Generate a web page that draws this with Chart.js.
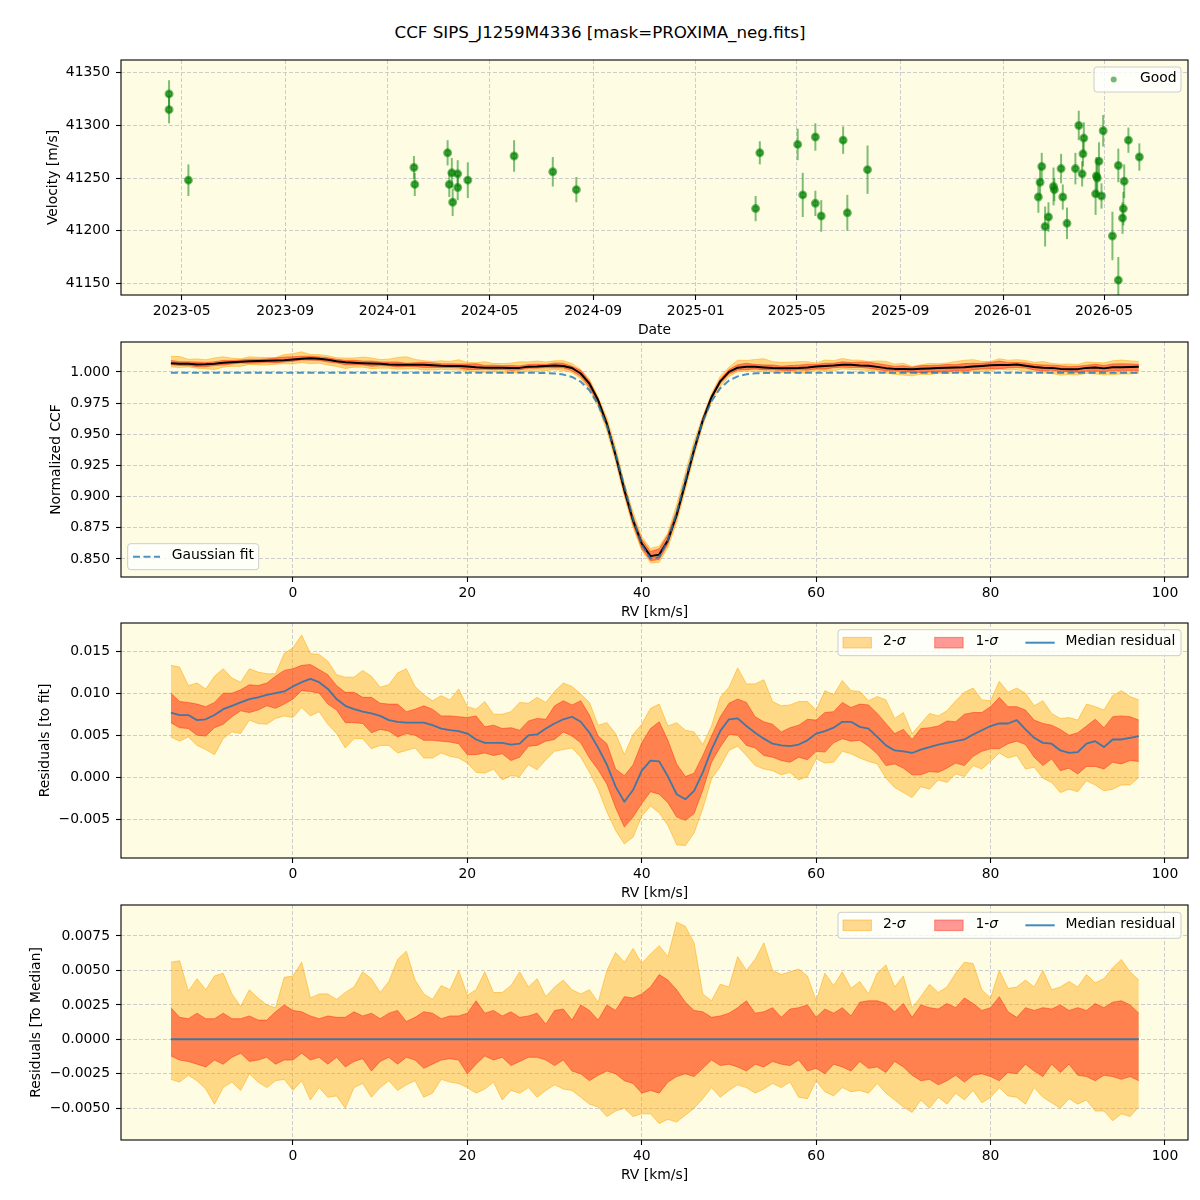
<!DOCTYPE html>
<html><head><meta charset="utf-8">
<script src="https://cdn.jsdelivr.net/npm/chart.js@4.4.0/dist/chart.umd.min.js"></script>
<style>
html,body{margin:0;padding:0;background:#fff;}
#wrap{position:relative;width:1200px;height:1200px;overflow:hidden;background:#fff;}
canvas{position:absolute;left:0;}
#title{position:absolute;left:0;width:1200px;top:22px;line-height:20px;text-align:center;font-family:"DejaVu Sans",sans-serif;font-size:16.7px;color:#000;}
</style></head><body>
<div id="wrap">
<div id="title">CCF SIPS_J1259M4336 [mask=PROXIMA_neg.fits]</div>
<canvas id="c1" width="1200" height="289" style="top:50px"></canvas>
<canvas id="c2" width="1200" height="289" style="top:332px"></canvas>
<canvas id="c3" width="1200" height="289" style="top:613px"></canvas>
<canvas id="c4" width="1200" height="289" style="top:895px"></canvas>
</div>
<script>
// ---------------- DATA ----------------
const OBS_DATES = ['2023-04-16','2023-04-16','2023-05-09','2024-02-01','2024-02-02','2024-03-12','2024-03-14','2024-03-17','2024-03-18','2024-03-24',
'2024-03-24','2024-04-05','2024-05-30','2024-07-15','2024-08-12','2025-03-13','2025-03-18','2025-05-02','2025-05-08','2025-05-23',
'2025-05-23','2025-05-30','2025-06-25','2025-06-30','2025-07-24','2026-02-12','2026-02-14','2026-02-16','2026-02-20','2026-02-24',
'2026-03-02','2026-03-03','2026-03-11','2026-03-13','2026-03-18','2026-03-28','2026-04-01','2026-04-05','2026-04-06','2026-04-07',
'2026-04-21','2026-04-22','2026-04-23','2026-04-25','2026-04-28','2026-04-30','2026-05-11','2026-05-18','2026-05-18','2026-05-23',
'2026-05-24','2026-05-25','2026-05-30','2026-06-12'];
const OBS_VEL = [41330,41315,41248,41260,41244,41274,41244,41255,41227,41254,
41241,41248,41271,41256,41239,41221,41274,41282,41234,41289,
41226,41214,41286,41217,41258,41232,41246,41261,41204,41213,
41242,41239,41259,41232,41207,41259,41300,41254,41273,41288,
41235,41252,41250,41266,41233,41295,41195,41153,41262,41212,
41221,41247,41286,41270];
const OBS_ERR = [13,13,15,11,11,12,12,14,13,13,
12,17,15,14,12,12,11,15,21,13,
12,15,13,17,23,15,15,13,19,14,
18,11,14,12,15,15,14,12,12,15,
20,18,18,18,12,15,23,22,16,15,
16,16,12,13];

const RV = [-14,-13,-12,-11,-10,-9,-8,-7,-6,-5,
-4,-3,-2,-1,0,1,2,3,4,5,
6,7,8,9,10,11,12,13,14,15,
16,17,18,19,20,21,22,23,24,25,
26,27,28,29,30,31,32,33,34,35,
36,37,38,39,40,41,42,43,44,45,
46,47,48,49,50,51,52,53,54,55,
56,57,58,59,60,61,62,63,64,65,
66,67,68,69,70,71,72,73,74,75,
76,77,78,79,80,81,82,83,84,85,
86,87,88,89,90,91,92,93,94,95,
96,97];

const GAUSS_FIT = [0.9993,0.9993,0.9993,0.9993,0.9993,0.9993,0.9993,0.9993,0.9993,0.9993,
0.9993,0.9993,0.9993,0.9993,0.9993,0.9993,0.9993,0.9993,0.9993,0.9993,
0.9993,0.9993,0.9993,0.9993,0.9993,0.9993,0.9993,0.9993,0.9993,0.9993,
0.9993,0.9993,0.9993,0.9993,0.9993,0.9993,0.9993,0.9993,0.9993,0.9993,
0.9993,0.9993,0.9993,0.9991,0.9988,0.9979,0.9960,0.9922,0.9853,0.9738,
0.9568,0.9344,0.9083,0.8824,0.8615,0.8503,0.8516,0.8650,0.8873,0.9137,
0.9392,0.9607,0.9765,0.9870,0.9932,0.9965,0.9981,0.9989,0.9991,0.9993,
0.9993,0.9993,0.9993,0.9993,0.9993,0.9993,0.9993,0.9993,0.9993,0.9993,
0.9993,0.9993,0.9993,0.9993,0.9993,0.9993,0.9993,0.9993,0.9993,0.9993,
0.9993,0.9993,0.9993,0.9993,0.9993,0.9993,0.9993,0.9993,0.9993,0.9993,
0.9993,0.9993,0.9993,0.9993,0.9993,0.9993,0.9993,0.9993,0.9993,0.9993,
0.9993,0.9993];

// median residual (CCF - fit)
const MED_RES = [0.0077,0.0074,0.0074,0.0068,0.0069,0.0074,0.0081,0.0085,0.0089,0.0093,
0.0095,0.0098,0.0100,0.0102,0.0108,0.0113,0.0117,0.0113,0.0105,0.0093,
0.0085,0.0081,0.0078,0.0076,0.0073,0.0068,0.0066,0.0065,0.0065,0.0065,
0.0062,0.0058,0.0056,0.0055,0.0052,0.0045,0.0041,0.0041,0.0041,0.0039,
0.0040,0.0050,0.0051,0.0058,0.0064,0.0069,0.0072,0.0066,0.0053,0.0035,
0.0015,-0.0011,-0.0029,-0.0015,0.0008,0.0020,0.0019,0.0001,-0.0020,-0.0026,
-0.0016,0.0006,0.0033,0.0055,0.0069,0.0070,0.0061,0.0053,0.0046,0.0040,
0.0038,0.0037,0.0039,0.0044,0.0052,0.0055,0.0059,0.0066,0.0066,0.0060,
0.0058,0.0048,0.0038,0.0032,0.0031,0.0029,0.0033,0.0036,0.0039,0.0041,
0.0043,0.0045,0.0051,0.0056,0.0061,0.0064,0.0064,0.0068,0.0057,0.0047,
0.0041,0.0040,0.0032,0.0029,0.0030,0.0040,0.0043,0.0036,0.0045,0.0045,
0.0047,0.0049];

// band edges relative to the median residual
const SIG2_HI = [0.0056,0.0057,0.0035,0.0044,0.0036,0.0046,0.0048,0.0033,0.0024,0.0036,
0.0030,0.0025,0.0023,0.0045,0.0046,0.0056,0.0030,0.0033,0.0033,0.0029,
0.0034,0.0038,0.0049,0.0044,0.0034,0.0042,0.0058,0.0064,0.0043,0.0033,
0.0029,0.0039,0.0036,0.0050,0.0032,0.0036,0.0049,0.0034,0.0034,0.0039,
0.0049,0.0038,0.0044,0.0031,0.0038,0.0043,0.0036,0.0033,0.0036,0.0027,
0.0050,0.0063,0.0056,0.0066,0.0055,0.0062,0.0068,0.0060,0.0085,0.0082,
0.0070,0.0033,0.0028,0.0040,0.0038,0.0060,0.0050,0.0058,0.0070,0.0050,
0.0047,0.0049,0.0051,0.0046,0.0028,0.0048,0.0039,0.0049,0.0037,0.0042,
0.0033,0.0048,0.0054,0.0038,0.0046,0.0023,0.0031,0.0040,0.0034,0.0038,
0.0048,0.0056,0.0055,0.0036,0.0030,0.0050,0.0037,0.0038,0.0043,0.0038,
0.0050,0.0036,0.0038,0.0042,0.0038,0.0047,0.0041,0.0044,0.0052,0.0058,
0.0049,0.0043];
const SIG1_HI = [0.0023,0.0016,0.0015,0.0019,0.0015,0.0015,0.0019,0.0015,0.0015,0.0017,
0.0014,0.0014,0.0020,0.0025,0.0021,0.0020,0.0017,0.0015,0.0017,0.0016,
0.0016,0.0020,0.0017,0.0019,0.0015,0.0019,0.0021,0.0013,0.0016,0.0020,
0.0019,0.0015,0.0017,0.0017,0.0019,0.0028,0.0019,0.0021,0.0017,0.0020,
0.0016,0.0017,0.0019,0.0011,0.0021,0.0022,0.0014,0.0025,0.0021,0.0014,
0.0025,0.0021,0.0031,0.0030,0.0033,0.0038,0.0047,0.0043,0.0036,0.0027,
0.0021,0.0020,0.0016,0.0017,0.0019,0.0023,0.0028,0.0019,0.0020,0.0023,
0.0016,0.0022,0.0023,0.0025,0.0016,0.0022,0.0019,0.0023,0.0017,0.0027,
0.0028,0.0028,0.0026,0.0020,0.0026,0.0016,0.0025,0.0023,0.0022,0.0026,
0.0023,0.0030,0.0026,0.0021,0.0023,0.0031,0.0020,0.0016,0.0023,0.0021,
0.0023,0.0022,0.0025,0.0021,0.0023,0.0021,0.0026,0.0023,0.0027,0.0028,
0.0025,0.0019];
const SIG1_LO = [-0.0012,-0.0015,-0.0016,-0.0018,-0.0020,-0.0015,-0.0018,-0.0013,-0.0010,-0.0016,
-0.0015,-0.0013,-0.0018,-0.0015,-0.0015,-0.0010,-0.0015,-0.0013,-0.0018,-0.0013,
-0.0020,-0.0016,-0.0014,-0.0023,-0.0016,-0.0013,-0.0018,-0.0013,-0.0015,-0.0021,
-0.0018,-0.0015,-0.0014,-0.0015,-0.0025,-0.0018,-0.0012,-0.0015,-0.0013,-0.0019,
-0.0016,-0.0013,-0.0013,-0.0015,-0.0019,-0.0015,-0.0023,-0.0025,-0.0030,-0.0026,
-0.0023,-0.0025,-0.0030,-0.0032,-0.0039,-0.0037,-0.0039,-0.0031,-0.0027,-0.0025,
-0.0027,-0.0021,-0.0015,-0.0019,-0.0018,-0.0020,-0.0023,-0.0018,-0.0020,-0.0016,
-0.0018,-0.0019,-0.0015,-0.0023,-0.0021,-0.0025,-0.0018,-0.0020,-0.0023,-0.0016,
-0.0021,-0.0020,-0.0024,-0.0016,-0.0020,-0.0026,-0.0030,-0.0029,-0.0033,-0.0030,
-0.0026,-0.0031,-0.0026,-0.0025,-0.0027,-0.0030,-0.0024,-0.0025,-0.0018,-0.0023,
-0.0027,-0.0018,-0.0024,-0.0018,-0.0026,-0.0027,-0.0030,-0.0026,-0.0027,-0.0029,
-0.0027,-0.0030];
const SIG2_LO = [-0.0029,-0.0031,-0.0026,-0.0030,-0.0036,-0.0047,-0.0035,-0.0031,-0.0037,-0.0025,
-0.0031,-0.0035,-0.0030,-0.0029,-0.0037,-0.0030,-0.0044,-0.0035,-0.0042,-0.0041,
-0.0050,-0.0035,-0.0032,-0.0042,-0.0035,-0.0030,-0.0037,-0.0033,-0.0030,-0.0042,
-0.0039,-0.0029,-0.0031,-0.0032,-0.0035,-0.0039,-0.0036,-0.0031,-0.0044,-0.0037,
-0.0039,-0.0035,-0.0042,-0.0037,-0.0033,-0.0036,-0.0037,-0.0042,-0.0047,-0.0049,
-0.0056,-0.0052,-0.0050,-0.0056,-0.0054,-0.0054,-0.0061,-0.0058,-0.0060,-0.0055,
-0.0050,-0.0043,-0.0035,-0.0042,-0.0037,-0.0033,-0.0035,-0.0039,-0.0036,-0.0032,
-0.0035,-0.0031,-0.0042,-0.0043,-0.0030,-0.0038,-0.0041,-0.0035,-0.0038,-0.0037,
-0.0039,-0.0032,-0.0039,-0.0044,-0.0049,-0.0053,-0.0044,-0.0050,-0.0042,-0.0047,
-0.0039,-0.0044,-0.0037,-0.0046,-0.0042,-0.0035,-0.0041,-0.0042,-0.0047,-0.0035,
-0.0042,-0.0046,-0.0050,-0.0043,-0.0047,-0.0044,-0.0052,-0.0052,-0.0059,-0.0054,
-0.0056,-0.0049];

const DATE_TICKS = ['2023-05-01','2023-09-01','2024-01-01','2024-05-01','2024-09-01','2025-01-01','2025-05-01','2025-09-01','2026-01-01','2026-05-01'];
const VEL_TICKS = [41150,41200,41250,41300,41350];
const RV_TICKS = [0,20,40,60,80,100];
const CCF_TICKS = [0.850,0.875,0.900,0.925,0.950,0.975,1.000];
const RES_TICKS = [-0.005,0.000,0.005,0.010,0.015];
const RESMED_TICKS = [-0.0050,-0.0025,0.0000,0.0025,0.0050,0.0075];

// ---------------- STYLE ----------------
const FONT = '"DejaVu Sans", sans-serif';
const FS = 13.9;
const BG = '#fefde4';
const GRID = '#cdcdcd';
const C2 = 'rgba(255,165,0,0.42)', C2E = 'rgba(255,165,0,0.5)';
const C1 = 'rgba(255,0,0,0.4)', C1E = 'rgba(255,30,0,0.45)';
const BLUE = 'rgba(31,119,180,0.85)';
const DAY = 864e5;
const T0 = Date.parse('2023-05-01');

const framePlugin = {
  id: 'frame',
  beforeDraw(chart) {
    const {ctx, chartArea: a} = chart;
    ctx.save(); ctx.fillStyle = BG;
    ctx.fillRect(a.left, a.top, a.right - a.left, a.bottom - a.top);
    ctx.restore();
  },
  afterDraw(chart) {
    const {ctx, chartArea: a} = chart;
    ctx.save(); ctx.strokeStyle = '#000'; ctx.lineWidth = 1.1;
    ctx.strokeRect(a.left, a.top, a.right - a.left, a.bottom - a.top);
    ctx.restore();
    const L = chart.options.plugins.mplLegend;
    if (L && L.items) drawLegend(chart, L);
  }
};

function drawLegend(chart, L) {
  const {ctx, chartArea: a} = chart;
  const bx = L.corner === 'bl' ? a.left + L.dx : a.right - L.dx - L.w;
  const by = L.corner === 'bl' ? a.bottom - L.dy - L.h : a.top + L.dy;
  ctx.save();
  const r = 3;
  ctx.beginPath();
  ctx.moveTo(bx + r, by); ctx.lineTo(bx + L.w - r, by); ctx.arcTo(bx + L.w, by, bx + L.w, by + r, r);
  ctx.lineTo(bx + L.w, by + L.h - r); ctx.arcTo(bx + L.w, by + L.h, bx + L.w - r, by + L.h, r);
  ctx.lineTo(bx + r, by + L.h); ctx.arcTo(bx, by + L.h, bx, by + L.h - r, r);
  ctx.lineTo(bx, by + r); ctx.arcTo(bx, by, bx + r, by, r); ctx.closePath();
  ctx.fillStyle = 'rgba(255,255,255,0.8)'; ctx.fill();
  ctx.strokeStyle = '#cccccc'; ctx.lineWidth = 1; ctx.stroke();
  const cy = by + L.h / 2;
  for (const it of L.items) {
    if (it.kind === 'patch') {
      ctx.fillStyle = it.fill; ctx.fillRect(bx + it.x, cy - 5.3, 28.4, 10.6);
      ctx.strokeStyle = it.edge; ctx.lineWidth = 1; ctx.strokeRect(bx + it.x, cy - 5.3, 28.4, 10.6);
    } else if (it.kind === 'line') {
      ctx.strokeStyle = it.color; ctx.lineWidth = it.lw; ctx.setLineDash(it.dash || []);
      ctx.beginPath(); ctx.moveTo(bx + it.x, cy); ctx.lineTo(bx + it.x2, cy); ctx.stroke();
      ctx.setLineDash([]);
    } else if (it.kind === 'dot') {
      ctx.fillStyle = it.color; ctx.beginPath(); ctx.arc(bx + it.x, cy, it.r, 0, Math.PI * 2); ctx.fill();
    }
    ctx.fillStyle = '#000'; ctx.textBaseline = 'middle'; ctx.textAlign = 'left';
    ctx.font = FS + 'px ' + FONT;
    ctx.fillText(it.text, bx + it.tx, cy - 1);
    if (it.sigma) {
      const w = ctx.measureText(it.text).width;
      ctx.font = 'italic ' + FS + 'px ' + FONT;
      ctx.fillText('\u03c3', bx + it.tx + w, cy - 1);
    }
  }
  ctx.restore();
}

const errBarPlugin = {
  id: 'errBars',
  beforeDatasetsDraw(chart) {
    const {ctx, chartArea: a} = chart;
    const xs = chart.scales.x, ys = chart.scales.y;
    ctx.save();
    ctx.beginPath(); ctx.rect(a.left, a.top, a.right - a.left, a.bottom - a.top); ctx.clip();
    ctx.strokeStyle = 'rgba(0,128,0,0.5)'; ctx.lineWidth = 2;
    OBS_DATES.forEach((d, i) => {
      const px = xs.getPixelForValue(Date.parse(d));
      ctx.beginPath();
      ctx.moveTo(px, ys.getPixelForValue(OBS_VEL[i] - OBS_ERR[i]));
      ctx.lineTo(px, ys.getPixelForValue(OBS_VEL[i] + OBS_ERR[i]));
      ctx.stroke();
    });
    ctx.restore();
  }
};

const fmtMinus = s => s.replace('-', '\u2212');

function axisCommon(ticksArr, fmt, title) {
  return {
    type: 'linear',
    afterBuildTicks: s => { s.ticks = ticksArr.map(v => ({value: v})); },
    grid: {color: GRID, lineWidth: 1, tickLength: 5, tickColor: '#000', tickWidth: 1.1, tickBorderDash: [], drawTicks: true},
    border: {display: false, dash: [4, 2]},
    ticks: {font: {family: FONT, size: FS}, color: '#000', maxRotation: 0, autoSkip: false, callback: v => fmt(v)},
    title: {display: true, text: title, font: {family: FONT, size: FS}, color: '#000', padding: 0}
  };
}

function makeOptions(cfg) {
  const x = axisCommon(cfg.xticks, cfg.xfmt, cfg.xtitle);
  x.min = cfg.xmin; x.max = cfg.xmax; x.ticks.padding = 3;
  x.afterFit = s => { s.height = 44; s.paddingLeft = 0; s.paddingRight = 0; };
  const y = axisCommon(cfg.yticks, cfg.yfmt, cfg.ytitle);
  y.min = cfg.ymin; y.max = cfg.ymax; y.ticks.padding = 6;
  y.afterFit = s => { s.width = 121 - cfg.padLeft; s.paddingTop = 0; s.paddingBottom = 0; };
  return {
    responsive: false, animation: false, devicePixelRatio: 1,
    layout: {padding: {left: cfg.padLeft, right: 12, top: 10, bottom: 0}},
    elements: {point: {radius: 0, hoverRadius: 0}, line: {tension: 0, borderJoinStyle: 'round'}},
    plugins: {legend: {display: false}, tooltip: {enabled: false}, mplLegend: cfg.legend},
    events: [],
    scales: {x, y}
  };
}

const pts = arr => RV.map((v, i) => ({x: v, y: arr[i]}));
function bandSets(lo2, hi2, lo1, hi1) {
  return [
    {data: pts(lo2), borderColor: C2E, borderWidth: 1, backgroundColor: C2, fill: false, order: 3},
    {data: pts(hi2), borderColor: C2E, borderWidth: 1, backgroundColor: C2, fill: '-1', order: 3},
    {data: pts(lo1), borderColor: C1E, borderWidth: 1, backgroundColor: C1, fill: false, order: 2},
    {data: pts(hi1), borderColor: C1E, borderWidth: 1, backgroundColor: C1, fill: '-1', order: 2}
  ];
}

const RV_RANGE = {xmin: -19.72, xmax: 102.64, xticks: RV_TICKS, xfmt: v => String(v), xtitle: 'RV [km/s]'};
const sigLegend = dy => ({corner: 'tr', dx: 7, dy: dy, w: 343, h: 26, items: [
  {kind: 'patch', x: 5, fill: C2, edge: C2E, text: '2-', sigma: true, tx: 45},
  {kind: 'patch', x: 96.7, fill: C1, edge: C1E, text: '1-', sigma: true, tx: 137.4},
  {kind: 'line', x: 187.4, x2: 216.7, lw: 2, color: BLUE, text: 'Median residual', tx: 227.4}
]});

// ---------- Panel 1: velocities ----------
new Chart(document.getElementById('c1'), {
  type: 'scatter',
  data: {datasets: [{
    data: OBS_DATES.map((d, i) => ({x: Date.parse(d), y: OBS_VEL[i]})),
    pointRadius: 3.2, pointBorderWidth: 2.6,
    pointBackgroundColor: 'rgba(0,128,0,0.7)', pointBorderColor: 'rgba(0,128,0,0.55)', showLine: false
  }]},
  options: makeOptions({
    xmin: T0 - 72.1 * DAY, xmax: T0 + 1195.8 * DAY,
    xticks: DATE_TICKS.map(d => Date.parse(d)),
    xfmt: v => new Date(v).toISOString().slice(0, 7), xtitle: 'Date',
    ymin: 41138.9, ymax: 41362.2, yticks: VEL_TICKS, yfmt: v => String(v), ytitle: 'Velocity [m/s]',
    padLeft: 45,
    legend: {corner: 'tr', dx: 7, dy: 7, w: 87, h: 25, items: [{kind: 'dot', x: 19.7, r: 3, color: 'rgba(0,128,0,0.55)', text: 'Good', tx: 46}]}
  }),
  plugins: [framePlugin, errBarPlugin]
});

// ---------- Panel 2: CCF ----------
const ccfMed = GAUSS_FIT.map((f, i) => f + MED_RES[i]);
const ccfBand = off => GAUSS_FIT.map((f, i) => f + MED_RES[i] + off[i]);
new Chart(document.getElementById('c2'), {
  type: 'line',
  data: {datasets: [
    ...bandSets(ccfBand(SIG2_LO), ccfBand(SIG2_HI), ccfBand(SIG1_LO), ccfBand(SIG1_HI)),
    {data: pts(ccfMed), borderColor: '#000', borderWidth: 2, fill: false, order: 1},
    {data: pts(GAUSS_FIT), borderColor: 'rgba(31,119,180,0.8)', borderWidth: 2, borderDash: [7, 3.5], fill: false, order: 0}
  ]},
  options: makeOptions(Object.assign({}, RV_RANGE, {
    ymin: 0.83556, ymax: 1.02406, yticks: CCF_TICKS, yfmt: v => v.toFixed(3), ytitle: 'Normalized CCF',
    padLeft: 48,
    legend: {corner: 'bl', dx: 6.7, dy: 7.3, w: 131, h: 26, items: [
      {kind: 'line', x: 5.3, x2: 32.3, lw: 2, color: 'rgba(31,119,180,0.8)', dash: [7, 3.5], text: 'Gaussian fit', tx: 44}]}
  })),
  plugins: [framePlugin]
});

// ---------- Panel 3: residuals to fit ----------
const resBand = off => MED_RES.map((m, i) => m + off[i]);
new Chart(document.getElementById('c3'), {
  type: 'line',
  data: {datasets: [
    ...bandSets(resBand(SIG2_LO), resBand(SIG2_HI), resBand(SIG1_LO), resBand(SIG1_HI)),
    {data: pts(MED_RES), borderColor: BLUE, borderWidth: 1.8, fill: false, order: 1}
  ]},
  options: makeOptions(Object.assign({}, RV_RANGE, {
    ymin: -0.00957, ymax: 0.01833, yticks: RES_TICKS, yfmt: v => fmtMinus(v.toFixed(3)), ytitle: 'Residuals [to fit]',
    padLeft: 37.5, legend: sigLegend(6.7)
  })),
  plugins: [framePlugin]
});

// ---------- Panel 4: residuals to median ----------
const zeroLine = MED_RES.map(m => m - m);
new Chart(document.getElementById('c4'), {
  type: 'line',
  data: {datasets: [
    ...bandSets(SIG2_LO, SIG2_HI, SIG1_LO, SIG1_HI),
    {data: pts(zeroLine), borderColor: BLUE, borderWidth: 2, fill: false, order: 1}
  ]},
  options: makeOptions(Object.assign({}, RV_RANGE, {
    ymin: -0.0073, ymax: 0.009748, yticks: RESMED_TICKS, yfmt: v => fmtMinus(v.toFixed(4)), ytitle: 'Residuals [To Median]',
    padLeft: 28.3, legend: sigLegend(7.3)
  })),
  plugins: [framePlugin]
});
</script>
</body></html>
